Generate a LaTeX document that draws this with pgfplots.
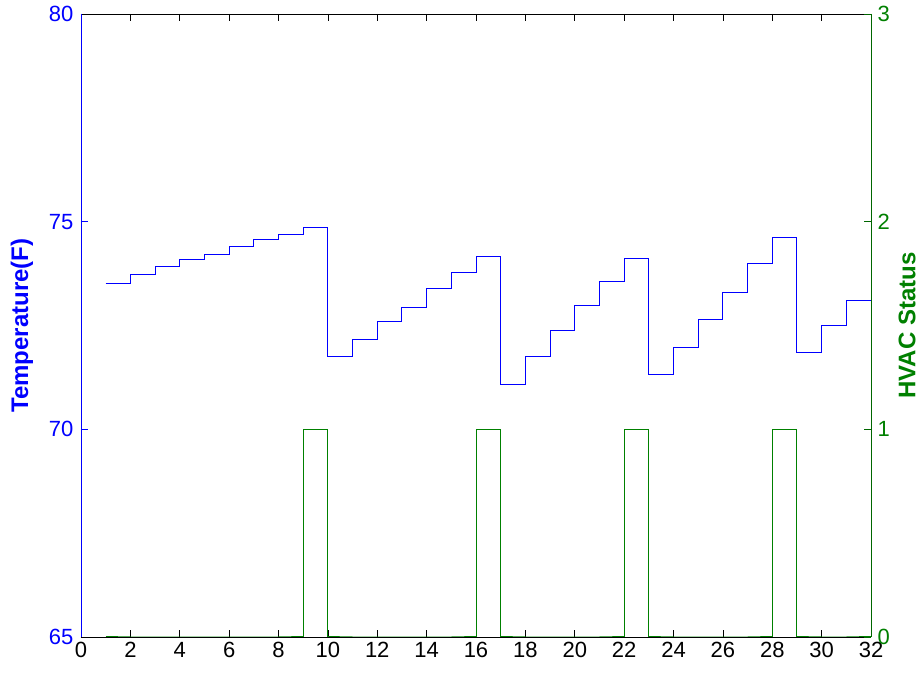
\documentclass[border=0pt]{standalone}
\usepackage{pgfplots}
\pgfplotsset{compat=1.18}
\usepackage{fontspec}
\setmainfont{Liberation Sans}
\definecolor{tempblue}{RGB}{0,0,255}
\definecolor{hvacgreen}{RGB}{0,128,0}

% Room temperature (left axis) and HVAC on/off state (right axis)
\pgfplotstableread{
x  temp
1  73.52
2  73.72
3  73.91
4  74.08
5  74.21
6  74.39
7  74.56
8  74.70
9  74.87
10 71.76
11 72.16
12 72.59
13 72.94
14 73.38
15 73.77
16 74.17
17 71.09
18 71.76
19 72.37
20 72.98
21 73.55
22 74.12
23 71.31
24 71.98
25 72.64
26 73.30
27 74.00
28 74.61
29 71.84
30 72.50
31 73.11
32 73.11
}\temptable

\pgfplotstableread{
x  hvac
1  0
2  0
3  0
4  0
5  0
6  0
7  0
8  0
9  1
10 0
11 0
12 0
13 0
14 0
15 0
16 1
17 0
18 0
19 0
20 0
21 0
22 1
23 0
24 0
25 0
26 0
27 0
28 1
29 0
30 0
31 0
32 0
}\hvactable

\begin{document}
\begin{tikzpicture}
\useasboundingbox (-81pt,-37pt) rectangle (838pt,637pt);
\pgfplotsset{
  common/.style={
    scale only axis, width=790pt, height=623pt,
    xmin=0, xmax=32,
    tick align=inside, major tick length=7pt,
    tick label style={font=\fontsize{22}{24}\selectfont},
    label style={font=\fontsize{24}{27}\selectfont\bfseries},
    /pgf/number format/assume math mode=true,
    axis line style={-, line width=0.8pt},
    every tick/.append style={line width=0.6pt},
  }
}
\begin{axis}[common,
  axis x line*=box, axis y line*=left,
  x axis line style={draw=black},
  y axis line style={draw=tempblue},
  ymin=65, ymax=80, ytick={65,70,75,80},
  xtick={0,2,...,32},
  xticklabel style={black, yshift=-2pt},
  yticklabel style={tempblue, xshift=-4pt},
  ytick style={draw=tempblue},
  xtick style={draw=black},
  ylabel={Temperature(F)},
  ylabel style={tempblue, at={(axis description cs:-0.0747,0.5)}, anchor=center},
]
\addplot[const plot, draw=tempblue, line width=1pt] table[x=x, y=temp] {\temptable};
\end{axis}
\begin{axis}[common,
  axis x line=none, axis y line*=right,
  y axis line style={draw=hvacgreen!80!black},
  ymin=0, ymax=3, ytick={0,1,2,3},
  yticklabel style={hvacgreen, xshift=3pt},
  ytick style={draw=hvacgreen!80!black},
  ylabel={HVAC Status},
  ylabel style={hvacgreen, at={(axis description cs:1.0456,0.5)}, anchor=center},
]
\addplot[const plot, draw=hvacgreen, line width=1pt] table[x=x, y=hvac] {\hvactable};
\end{axis}
\end{tikzpicture}
\end{document}
